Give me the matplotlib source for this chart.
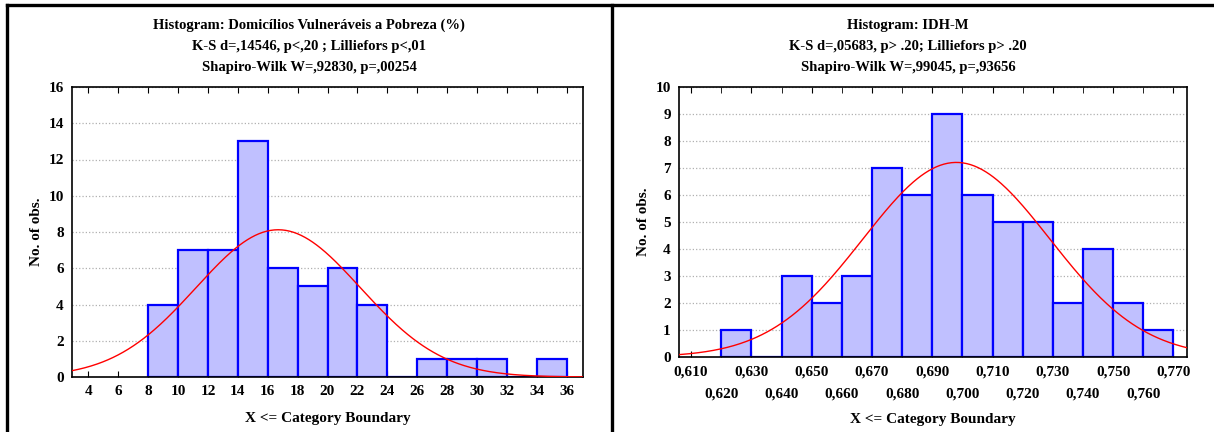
import numpy as np
import matplotlib
matplotlib.use('Agg')
import matplotlib.pyplot as plt
from matplotlib.lines import Line2D

plt.rcParams['font.family'] = ['Liberation Serif', 'DejaVu Serif']
plt.rcParams['font.weight'] = 'bold'

# left panel: Domicilios Vulneraveis a Pobreza (%)
dom_edges = [8, 10, 12, 14, 16, 18, 20, 22, 24, 26, 28, 30, 32, 34, 36]
dom_counts = [4, 7, 7, 13, 6, 5, 6, 4, 0, 1, 1, 1, 0, 1]
dom_mean, dom_sd, dom_n = 16.7, 5.5, 56
dom_title = ['Histogram: Domicílios Vulneráveis a Pobreza (%)',
             'K-S d=,14546, p<,20 ; Lilliefors p<,01',
             'Shapiro-Wilk W=,92830, p=,00254']

# right panel: IDH-M
idh_edges = [0.620, 0.630, 0.640, 0.650, 0.660, 0.670, 0.680, 0.690,
             0.700, 0.710, 0.720, 0.730, 0.740, 0.750, 0.760, 0.770]
idh_counts = [1, 0, 3, 2, 3, 7, 6, 9, 6, 5, 5, 2, 4, 2, 1]
idh_mean, idh_sd, idh_n = 0.698, 0.031, 56
idh_title = ['Histogram: IDH-M',
             'K-S d=,05683, p> .20; Lilliefors p> .20',
             'Shapiro-Wilk W=,99045, p=,93656']

W, H = 1214, 432
fig = plt.figure(figsize=(W / 100, H / 100), dpi=100)


def px(x0, y0, x1, y1):
    return [x0 / W, 1 - y1 / H, (x1 - x0) / W, (y1 - y0) / H]


def hist(ax, edges, counts, mean, sd, n, xlim, ylim):
    edges = np.array(edges)
    widths = np.diff(edges)
    ax.bar(edges[:-1], counts, width=widths, align='edge',
           color='#c0c0ff', edgecolor='#0000ff', linewidth=1.6, zorder=2)
    # fitted normal curve, scaled to counts
    xs = np.linspace(xlim[0], xlim[1], 400)
    ys = n * widths[0] / (sd * np.sqrt(2 * np.pi)) * np.exp(-0.5 * ((xs - mean) / sd) ** 2)
    ax.plot(xs, ys, color='red', lw=1.0, zorder=3)
    ax.set_xlim(xlim)
    ax.set_ylim(ylim)
    ax.yaxis.grid(True, color='#b0b0b0', ls=':', lw=0.9, zorder=0)
    ax.set_axisbelow(True)
    for s in ax.spines.values():
        s.set_linewidth(1.2)
    ax.tick_params(axis='x', which='both', direction='in', top=True, length=4,
                   labelsize=11, pad=6)
    ax.tick_params(axis='y', length=0, labelsize=11, pad=6)
    ax.set_ylabel('No. of obs.', fontsize=11, fontweight='bold')
    ax.set_xlabel('X <= Category Boundary', fontsize=11, fontweight='bold')


# left
ax1 = fig.add_axes(px(72, 87, 583, 377))
hist(ax1, dom_edges, dom_counts, dom_mean, dom_sd, dom_n, (2.9, 37.1), (0, 16))
ax1.set_xticks(range(4, 37, 2))
ax1.set_yticks(range(0, 17, 2))
ax1.xaxis.labelpad = 10
for i, t in enumerate(dom_title):
    fig.text(309 / W, 1 - (25 + 21.5 * i) / H, t, ha='center', va='center',
             fontsize=10.5, fontweight='bold')

# right
ax2 = fig.add_axes(px(679, 87, 1187, 357))
hist(ax2, idh_edges, idh_counts, idh_mean, idh_sd, idh_n, (0.606, 0.7745), (0, 10))
major = np.round(np.arange(0.61, 0.771, 0.02), 3)
minor = np.round(np.arange(0.62, 0.761, 0.02), 3)
ax2.set_xticks(major, [f'{v:.3f}'.replace('.', ',') for v in major])
ax2.set_xticks(minor, [f'{v:.3f}'.replace('.', ',') for v in minor], minor=True)
ax2.tick_params(axis='x', which='minor', pad=22)
ax2.set_yticks(range(0, 11))
ax2.xaxis.labelpad = 9
for i, t in enumerate(idh_title):
    fig.text(908 / W, 1 - (25 + 21.5 * i) / H, t, ha='center', va='center',
             fontsize=10.5, fontweight='bold')

# panel frames
lw = 2.4
fig.add_artist(Line2D([7 / W, 1], [1 - 5 / H, 1 - 5 / H], color='black', lw=lw))
fig.add_artist(Line2D([7 / W, 7 / W], [0, 1 - 5 / H], color='black', lw=lw))
fig.add_artist(Line2D([612 / W, 612 / W], [0, 1 - 5 / H], color='black', lw=lw))

fig.savefig('out.png', dpi=100)
